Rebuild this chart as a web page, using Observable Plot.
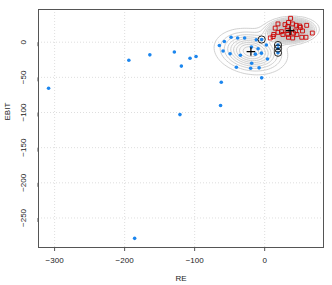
<!DOCTYPE html>
<html><head><meta charset="utf-8">
<script src="https://cdn.jsdelivr.net/npm/d3@7"></script>
<script src="https://cdn.jsdelivr.net/npm/@observablehq/plot@0.6"></script>
<style>body{margin:0;background:#fff}svg{display:block}</style>
</head><body><div id="chart"></div>
<script>
const xTicks = [-300, -200, -100, 0];
const yTicks = [0, -50, -100, -150, -200, -250];
const xLabel = "RE";
const yLabel = "EBIT";

// class 1 (blue filled circles): core cluster and scattered points
const blueCluster = [
  [-48,7],[-57.6,1],[-38.6,6],[-28.6,6],[-12,3.4],[-4.3,3.8],[2.4,-4],[-64.7,-4.7],
  [-59.4,-12.5],[-49.4,-16.5],[-34.7,-18.5],[-19,-7],[-9.4,-9.4],[-4.7,-15.6],[-13.3,-17],
  [-18.6,-30],[4,-24],[-40.4,-35.6],[-20,-37],[-8,-36.5],[-4.3,-50.7],[19,-4],[19,-9],[19,-15]
];
const blueScatter = [
  [-308.6,-65.5],[-194,-25.6],[-164,-18],[-129,-14],[-119,-34],[-106.6,-22.8],[-98,-20.4],
  [-121,-103],[-62,-57],[-63,-90],[-185.7,-279]
];
// class 2 (red open squares)
const redSquares = [
  [37,34],[34,28],[19,26],[29,25],[40,26],[45,24],[50,23],[60,24],[15,20],[33,22],[51,21],
  [32,17],[19,14],[24,15],[26,11],[33,11],[13,11],[8,6],[12,8],[41,13],[46,11],[54,16],
  [68,13],[34,7],[40,6],[53,7],[59,7],[44,16]
];
// circled (misclassified) observations
const flagged = [[-4.3,3.8],[19,-4],[19,-9],[19,-15]];

const xDomain = [-323, 84];
const yDomain = [-292, 46.5];

function comp(pts, total) {
  const mx = d3.mean(pts, d => d[0]), my = d3.mean(pts, d => d[1]);
  const n = pts.length;
  const sxx = d3.sum(pts, d => (d[0]-mx)**2)/n;
  const syy = d3.sum(pts, d => (d[1]-my)**2)/n;
  const sxy = d3.sum(pts, d => (d[0]-mx)*(d[1]-my))/n;
  const det = sxx*syy - sxy*sxy;
  return {mx, my, sxx, syy, sxy, det, w: n/total};
}
const total = blueCluster.length + redSquares.length;
const comps = [comp(blueCluster, total), comp(redSquares, total)];
function pdf(c, x, y) {
  const dx = x - c.mx, dy = y - c.my;
  const q = (c.syy*dx*dx - 2*c.sxy*dx*dy + c.sxx*dy*dy)/c.det;
  return c.w*Math.exp(-q/2)/(2*Math.PI*Math.sqrt(c.det));
}
const dens = (x, y) => comps.reduce((s, c) => s + pdf(c, x, y), 0);
const blueTop = dens(comps[0].mx, comps[0].my);
const peak = d3.max(comps, c => dens(c.mx, c.my));
const step = blueTop / 10;
const levels = d3.range(1, Math.floor(peak/step) + 1).map(k => k*step);

const means = comps.map(c => [c.mx, c.my]);
const plusSymbol = {draw(ctx, size) {
  const r = Math.sqrt(size/Math.PI);
  ctx.moveTo(-r, 0); ctx.lineTo(r, 0); ctx.moveTo(0, -r); ctx.lineTo(0, r);
}};

const grid = {stroke: "#d6d6d6", strokeDasharray: "1,2", strokeOpacity: 1, strokeWidth: 0.8};

const chart = Plot.plot({
  width: 332, height: 285,
  marginLeft: 38, marginRight: 9, marginTop: 9, marginBottom: 38,
  style: {fontFamily: "'Liberation Sans', Arial, sans-serif", fontSize: "8px", color: "#222", background: "#fff"},
  x: {domain: xDomain},
  y: {domain: yDomain},
  color: {type: "linear", domain: [0, blueTop, peak], range: ["#ffffff", "#f7f7f7", "#a0a0a0"]},
  marks: [
    Plot.contour({fill: dens, x1: xDomain[0], x2: xDomain[1], y1: yDomain[0], y2: yDomain[1],
      thresholds: levels, stroke: "#c4c4c4", strokeWidth: 0.8}),
    Plot.gridX(xTicks, grid),
    Plot.gridY(yTicks, grid),
    Plot.dot(blueCluster.concat(blueScatter), {x: d => d[0], y: d => d[1], r: 1.8, fill: "#1C86EE", stroke: null}),
    Plot.dot(redSquares, {x: d => d[0], y: d => d[1], symbol: "square", r: 2.2, stroke: "#CD0000", strokeWidth: 0.9, fill: "none"}),
    Plot.dot(flagged, {x: d => d[0], y: d => d[1], r: 3.6, stroke: "#111", strokeWidth: 0.9, fill: "none"}),
    Plot.dot(means, {x: d => d[0], y: d => d[1], symbol: plusSymbol, r: 4.3, stroke: "#000", strokeWidth: 1.2, fill: "none"}),
    Plot.frame({stroke: "#555", strokeWidth: 1}),
    Plot.axisX(xTicks, {tickSize: 4, tickPadding: 6, stroke: "#555", label: null, fontSize: 8}),
    Plot.axisY(yTicks, {tickSize: 4, tickPadding: 11, stroke: "#555", label: null, fontSize: 8, rotate: -90, textAnchor: "middle"}),
    Plot.text([xLabel], {frameAnchor: "bottom", dy: 31, lineAnchor: "middle", fontSize: 8}),
    Plot.text([yLabel], {frameAnchor: "left", dx: -31, dy: -8, rotate: -90, lineAnchor: "middle", fontSize: 8})
  ]
});
document.getElementById("chart").append(chart);
</script>
</body></html>
